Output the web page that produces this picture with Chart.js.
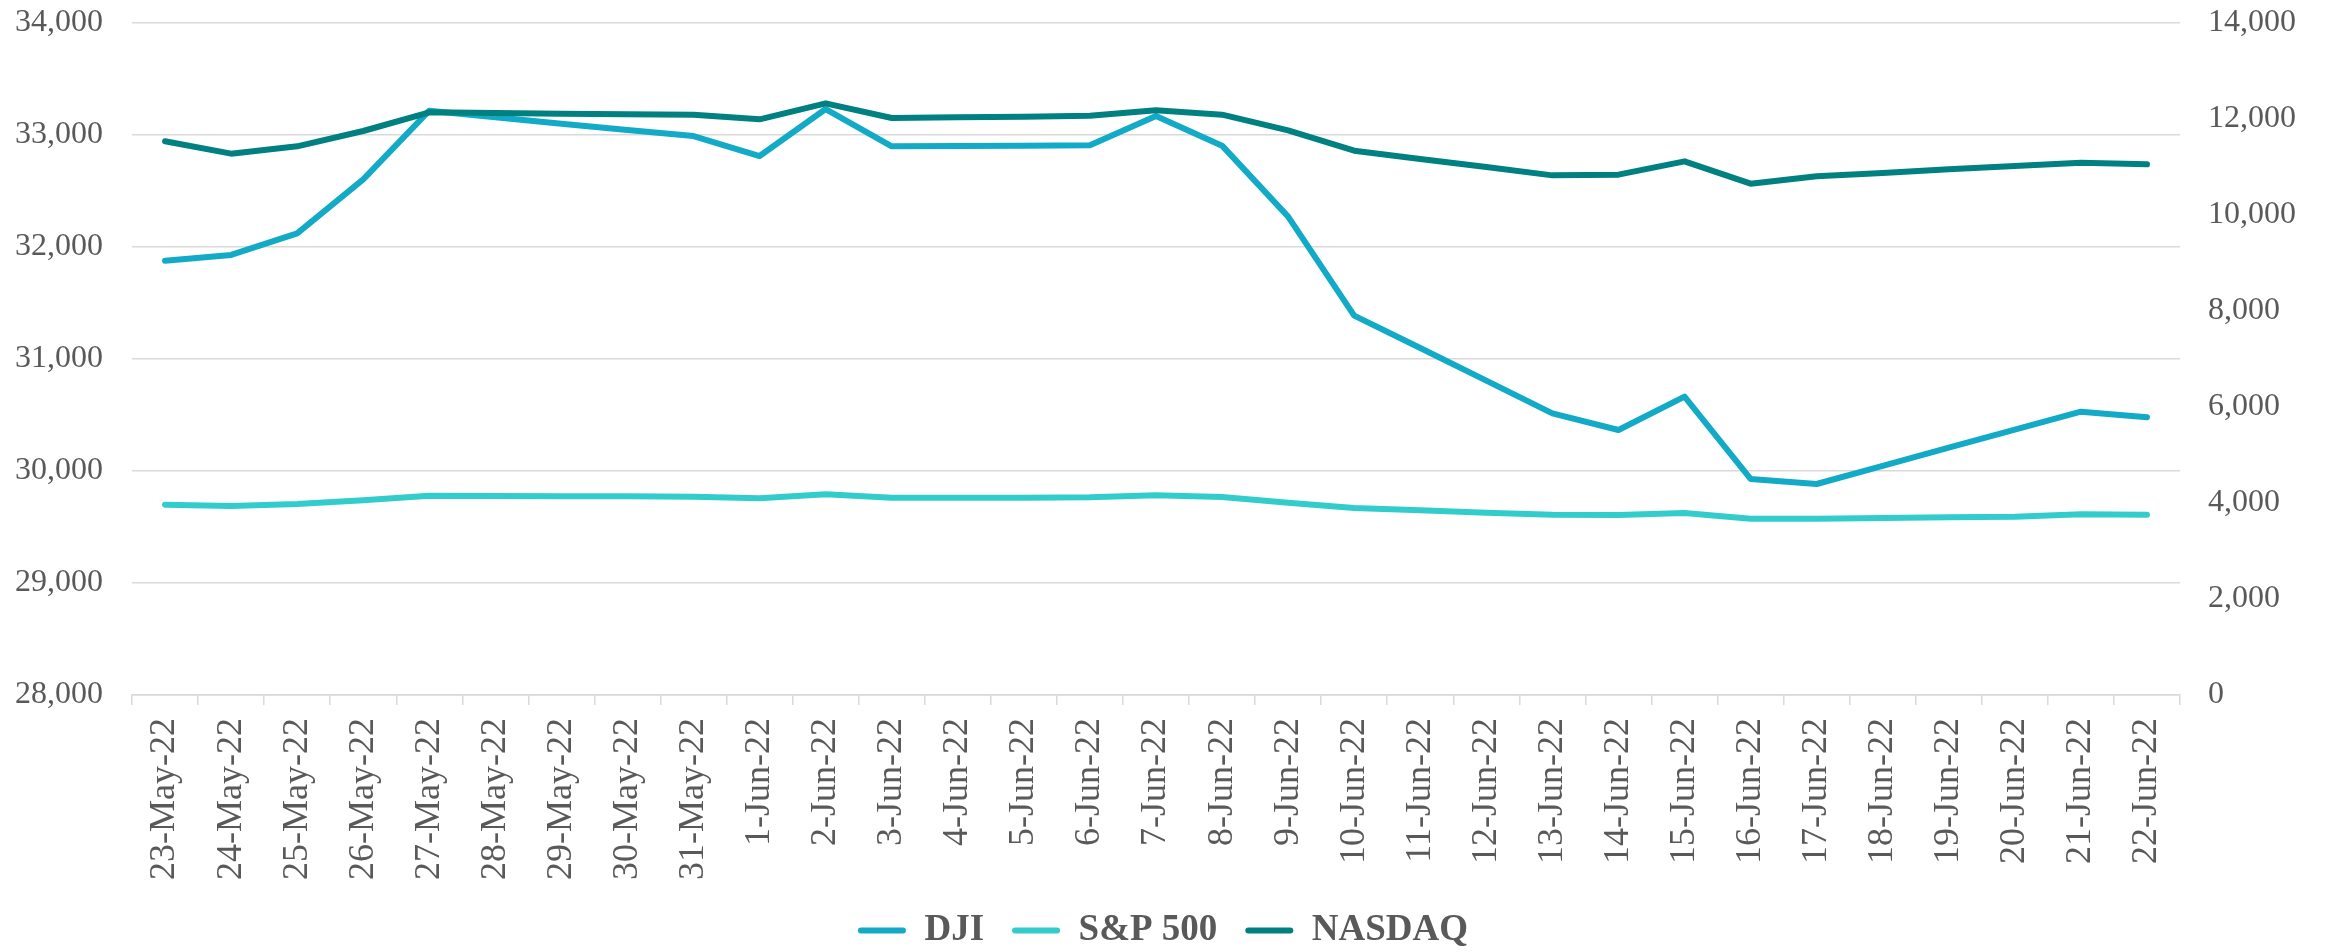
<!DOCTYPE html>
<html>
<head>
<meta charset="utf-8">
<script src="https://cdn.jsdelivr.net/npm/chart.js@4.4.1/dist/chart.umd.min.js"></script>
<style>
  html, body { margin: 0; padding: 0; background: #ffffff; }
  #wrap { width: 2326px; height: 952px; }
</style>
</head>
<body>
<div id="wrap"><canvas id="c" width="2326" height="952"></canvas></div>
<script>
const categories = [
  '23-May-22','24-May-22','25-May-22','26-May-22','27-May-22','28-May-22','29-May-22','30-May-22','31-May-22',
  '1-Jun-22','2-Jun-22','3-Jun-22','4-Jun-22','5-Jun-22','6-Jun-22','7-Jun-22','8-Jun-22','9-Jun-22','10-Jun-22',
  '11-Jun-22','12-Jun-22','13-Jun-22','14-Jun-22','15-Jun-22','16-Jun-22','17-Jun-22','18-Jun-22','19-Jun-22',
  '20-Jun-22','21-Jun-22','22-Jun-22'
];

const djiValues = [
  31878, 31929, 32122, 32604, 33217, 33158, 33101, 33045, 32991,
  32812, 33232, 32899, 32902, 32905, 32908, 33170, 32905, 32271, 31387,
  31098, 30807, 30515, 30366, 30664, 29929, 29884, 30045, 30208,
  30369, 30530, 30479
];

const spValues = [
  3965, 3938, 3979, 4056, 4153, 4146, 4139, 4139, 4132,
  4097, 4181, 4111, 4111, 4111, 4118, 4160, 4125, 4007, 3896,
  3847, 3799, 3757, 3750, 3792, 3674, 3674, 3688, 3701,
  3715, 3764, 3757
];

const nasdaqValues = [
  11535, 11278, 11431, 11750, 12139, 12125, 12111, 12097, 12090,
  11993, 12326, 12021, 12035, 12049, 12069, 12181, 12090, 11764, 11340,
  11167, 11000, 10826, 10840, 11118, 10653, 10806, 10875, 10951,
  11021, 11090, 11056
];

const seriesNames = ['DJI', 'S&P 500', 'NASDAQ'];
const seriesColors = ['#12AAC6', '#33CCCC', '#008080'];

const leftTicks = { min: 28000, max: 34000, step: 1000 };
const rightTicks = { min: 0, max: 14000, step: 2000 };

const FONT = "'Liberation Serif', 'Times New Roman', serif";
const TEXT = '#595959';
const GRID = '#d9d9d9';

function fmt(v) { return Number(v).toLocaleString('en-US'); }

function lineDs(label, data, color, axis, order) {
  return {
    label, data, yAxisID: axis, order,
    borderColor: color, backgroundColor: color,
    borderWidth: 6, pointRadius: 0, pointHoverRadius: 0,
    tension: 0, borderCapStyle: 'round', borderJoinStyle: 'round', fill: false
  };
}

new Chart(document.getElementById('c'), {
  type: 'line',
  data: {
    labels: categories,
    datasets: [
      lineDs(seriesNames[0], djiValues, seriesColors[0], 'yL', 2),
      lineDs(seriesNames[1], spValues, seriesColors[1], 'yR', 1),
      lineDs(seriesNames[2], nasdaqValues, seriesColors[2], 'yR', 0)
    ]
  },
  options: {
    responsive: false,
    maintainAspectRatio: false,
    devicePixelRatio: 1,
    animation: false,
    layout: { padding: { top: 23, left: 0, right: 0, bottom: -7 } },
    plugins: {
      tooltip: { enabled: false },
      legend: {
        position: 'bottom',
        labels: {
          color: TEXT,
          font: { family: FONT, size: 37, weight: 'bold' },
          boxWidth: 48,
          boxHeight: 6,
          padding: 28,
          useBorderRadius: true,
          borderRadius: 3,
          sort: (a, b) => a.datasetIndex - b.datasetIndex,
          generateLabels: (chart) => Chart.defaults.plugins.legend.labels.generateLabels(chart).map(l => ({
            ...l, lineWidth: 0, fillStyle: l.strokeStyle, borderRadius: 3
          }))
        }
      }
    },
    scales: {
      x: {
        type: 'category',
        offset: true,
        grid: { display: true, drawOnChartArea: false, drawTicks: true, tickLength: 10, color: GRID, lineWidth: 1.5, offset: true },
        border: { display: true, color: GRID, width: 1.5 },
        ticks: {
          color: TEXT, font: { family: FONT, size: 36 },
          autoSkip: false, minRotation: 90, maxRotation: 90, padding: 13
        },
        afterFit: (s) => { s.height = 189; }
      },
      yL: {
        type: 'linear', position: 'left',
        min: leftTicks.min, max: leftTicks.max,
        grid: { color: GRID, lineWidth: 1.5, drawTicks: true, tickLength: 29, tickColor: 'rgba(0,0,0,0)' },
        border: { display: false },
        ticks: { stepSize: leftTicks.step, color: TEXT, font: { family: FONT, size: 32 }, padding: 0, callback: fmt },
        afterFit: (s) => { s.width = 132; }
      },
      yR: {
        type: 'linear', position: 'right',
        min: rightTicks.min, max: rightTicks.max,
        grid: { drawOnChartArea: false, drawTicks: true, tickLength: 28, tickColor: 'rgba(0,0,0,0)' },
        border: { display: false },
        ticks: { stepSize: rightTicks.step, color: TEXT, font: { family: FONT, size: 32 }, padding: 0, callback: fmt },
        afterFit: (s) => { s.width = 146; }
      }
    }
  }
});
</script>
</body>
</html>
